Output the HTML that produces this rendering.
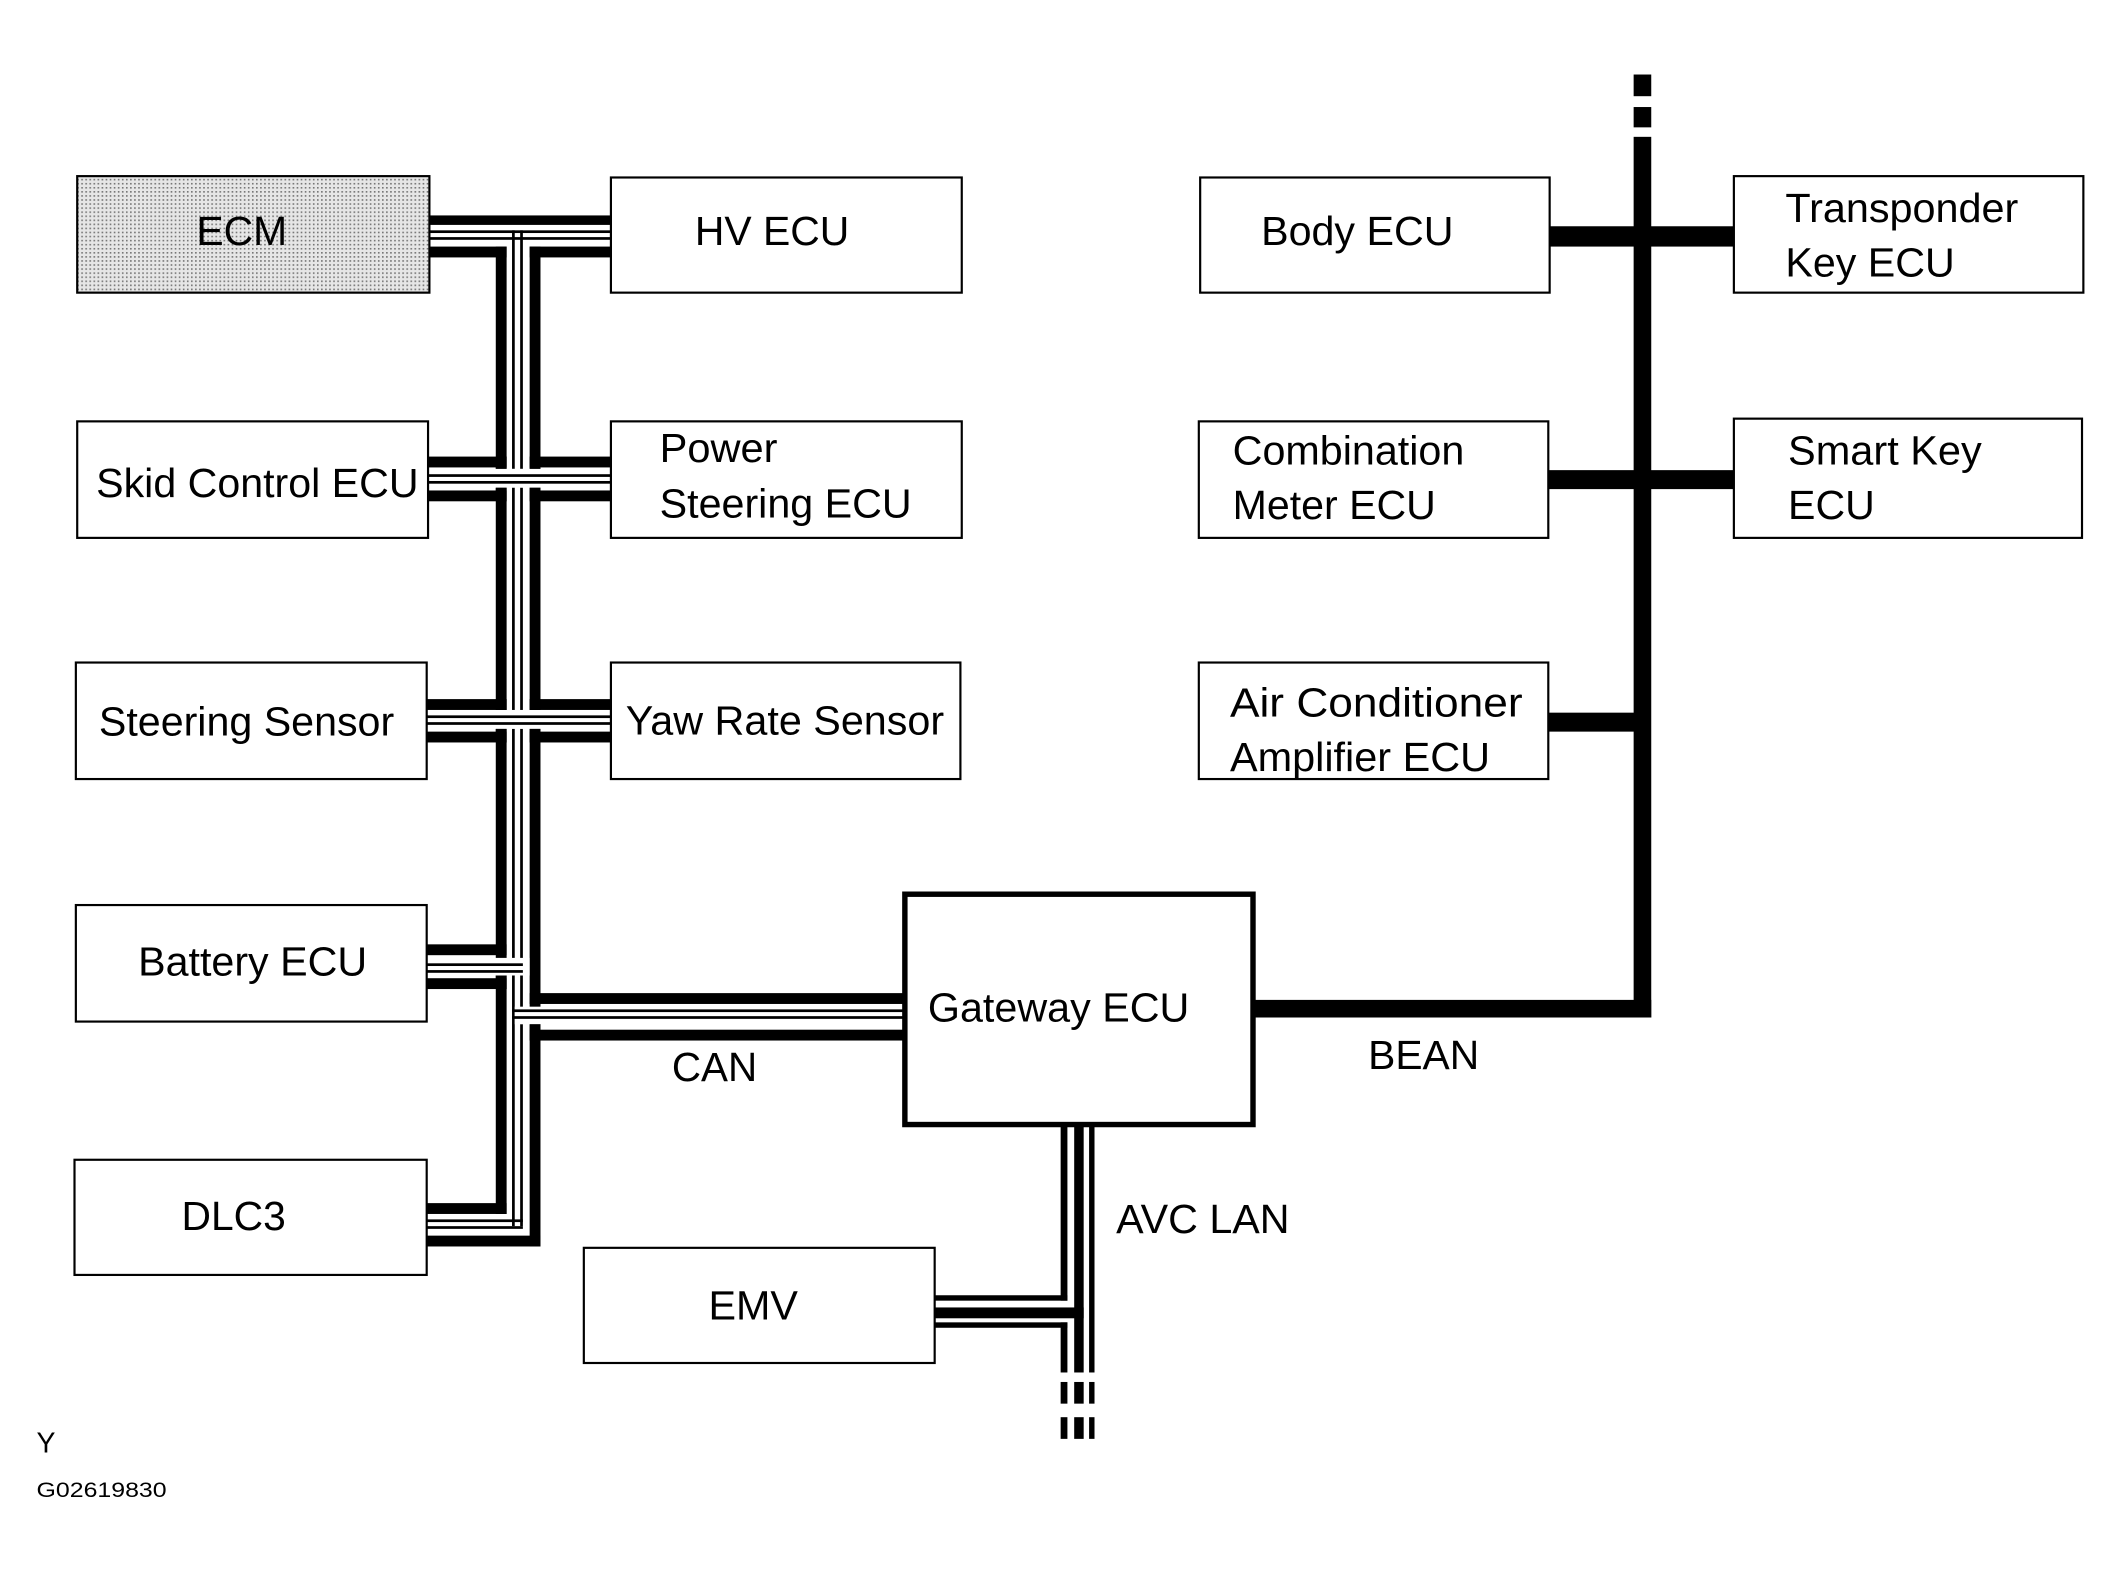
<!DOCTYPE html>
<html><head><meta charset="utf-8"><style>
html,body{margin:0;padding:0;background:#fff;}
svg{display:block;}
text{font-family:"Liberation Sans",Arial,sans-serif;fill:#000;}
</style></head><body>
<svg width="2124" height="1573" viewBox="0 0 1568 1161" preserveAspectRatio="none" xmlns="http://www.w3.org/2000/svg">
<defs>
<pattern id="dots" width="3" height="3" patternUnits="userSpaceOnUse">
<rect width="3" height="3" fill="#e6e6e6"/><rect width="1.2" height="1.2" fill="#777"/>
</pattern>
</defs>
<rect width="1568" height="1161" fill="#fff"/>

<!-- CAN bus verticals -->
<g fill="#000">
<rect x="366" y="182" width="8" height="714"/>
<rect x="391" y="182" width="8" height="738"/>
<rect x="378" y="170" width="2" height="735"/>
<rect x="384" y="170" width="2" height="735"/>
</g>

<!-- ECM / HV row -->
<g fill="#000">
<rect x="317" y="159" width="134" height="7"/>
<rect x="317" y="182" width="57" height="8"/>
<rect x="391" y="182" width="60" height="8"/>
<rect x="317" y="170" width="134" height="2"/>
<rect x="317" y="175" width="134" height="2"/>
</g>

<!-- Skid / Power Steering row c=354 -->
<g>
<rect x="316" y="346" width="135" height="14" fill="#fff"/>
<g fill="#000">
<rect x="316" y="337" width="58" height="8"/>
<rect x="391" y="337" width="60" height="8"/>
<rect x="316" y="362" width="58" height="8"/>
<rect x="391" y="362" width="60" height="8"/>
<rect x="316" y="350" width="135" height="2"/>
<rect x="316" y="355" width="135" height="2"/>
<rect x="366" y="360" width="8" height="10"/>
<rect x="391" y="360" width="8" height="10"/>
<rect x="366" y="337" width="8" height="9"/>
<rect x="391" y="337" width="8" height="9"/>
</g></g>

<!-- Steering / Yaw row c=532 -->
<g>
<rect x="315" y="524" width="136" height="14" fill="#fff"/>
<g fill="#000">
<rect x="315" y="516" width="59" height="8"/>
<rect x="391" y="516" width="60" height="8"/>
<rect x="315" y="540" width="59" height="8"/>
<rect x="391" y="540" width="60" height="8"/>
<rect x="315" y="528" width="136" height="2"/>
<rect x="315" y="533" width="136" height="2"/>
<rect x="366" y="538" width="8" height="10"/>
<rect x="391" y="538" width="8" height="10"/>
<rect x="366" y="516" width="8" height="8"/>
<rect x="391" y="516" width="8" height="8"/>
</g></g>

<!-- Battery row -->
<g>
<rect x="315" y="707" width="76" height="13" fill="#fff"/>
<g fill="#000">
<rect x="315" y="697" width="59" height="8"/>
<rect x="315" y="722" width="59" height="8"/>
<rect x="366" y="720" width="8" height="10"/>
<rect x="315" y="711" width="71" height="2"/>
<rect x="315" y="716" width="71" height="2"/>
</g></g>

<!-- Gateway row -->
<g>
<rect x="380" y="743" width="287" height="13" fill="#fff"/>
<g fill="#000">
<rect x="391" y="733" width="276" height="8"/>
<rect x="391" y="760" width="276" height="8"/>
<rect x="378" y="745" width="289" height="2"/>
<rect x="378" y="750" width="289" height="2"/>
<rect x="391" y="756" width="8" height="12"/>
</g></g>

<!-- DLC3 row -->
<g fill="#000">
<rect x="315" y="888" width="59" height="8"/>
<rect x="315" y="900" width="71" height="2"/>
<rect x="315" y="905" width="71" height="2"/>
<rect x="315" y="912" width="84" height="8"/>
</g>

<!-- BEAN -->
<g fill="#000">
<rect x="1206" y="55" width="13" height="16"/>
<rect x="1206" y="79" width="13" height="15"/>
<rect x="1206" y="101" width="13" height="650"/>
<rect x="1144" y="167" width="136" height="15"/>
<rect x="1143" y="347" width="137" height="14"/>
<rect x="1143" y="526" width="70" height="14"/>
<rect x="926" y="738" width="293" height="13"/>
</g>

<!-- AVC LAN -->
<g fill="#000">
<rect x="783" y="831" width="5" height="129"/>
<rect x="783" y="976" width="5" height="37"/>
<rect x="793" y="831" width="7" height="182"/>
<rect x="804" y="831" width="4" height="182"/>
<rect x="690" y="956" width="98" height="4"/>
<rect x="690" y="965" width="110" height="8"/>
<rect x="690" y="976" width="98" height="4"/>
<rect x="783" y="1020" width="5" height="16"/><rect x="793" y="1020" width="7" height="16"/><rect x="804" y="1020" width="4" height="16"/>
<rect x="783" y="1046" width="5" height="16"/><rect x="793" y="1046" width="7" height="16"/><rect x="804" y="1046" width="4" height="16"/>
</g>

<!-- Boxes -->
<g stroke="#000" stroke-width="1.6" fill="#fff">
<rect x="57" y="130" width="260" height="86" fill="url(#dots)"/>
<rect x="451" y="131" width="259" height="85"/>
<rect x="57" y="311" width="259" height="86"/>
<rect x="451" y="311" width="259" height="86"/>
<rect x="56" y="489" width="259" height="86"/>
<rect x="451" y="489" width="258" height="86"/>
<rect x="56" y="668" width="259" height="86"/>
<rect x="55" y="856" width="260" height="85"/>
<rect x="431" y="921" width="259" height="85"/>
<rect x="886" y="131" width="258" height="85"/>
<rect x="1280" y="130" width="258" height="86"/>
<rect x="885" y="311" width="258" height="86"/>
<rect x="1280" y="309" width="257" height="88"/>
<rect x="885" y="489" width="258" height="86"/>
</g>
<rect x="668" y="660" width="257" height="170" fill="#fff" stroke="#000" stroke-width="4"/>

<!-- Labels -->
<g font-size="30">
<text x="145" y="181" textLength="67" lengthAdjust="spacingAndGlyphs">ECM</text>
<text x="513" y="181" textLength="114" lengthAdjust="spacingAndGlyphs">HV ECU</text>
<text x="71" y="367" textLength="238" lengthAdjust="spacingAndGlyphs">Skid Control ECU</text>
<text x="487" y="341" textLength="87" lengthAdjust="spacingAndGlyphs">Power</text>
<text x="487" y="382" textLength="186" lengthAdjust="spacingAndGlyphs">Steering ECU</text>
<text x="73" y="543" textLength="218" lengthAdjust="spacingAndGlyphs">Steering Sensor</text>
<text x="462" y="542" textLength="235" lengthAdjust="spacingAndGlyphs">Yaw Rate Sensor</text>
<text x="102" y="720" textLength="169" lengthAdjust="spacingAndGlyphs">Battery ECU</text>
<text x="134" y="908" textLength="77" lengthAdjust="spacingAndGlyphs">DLC3</text>
<text x="523" y="974" textLength="66" lengthAdjust="spacingAndGlyphs">EMV</text>
<text x="685" y="754" textLength="193" lengthAdjust="spacingAndGlyphs">Gateway ECU</text>
<text x="496" y="798" textLength="63" lengthAdjust="spacingAndGlyphs">CAN</text>
<text x="1010" y="789" textLength="82" lengthAdjust="spacingAndGlyphs">BEAN</text>
<text x="824" y="910" textLength="128" lengthAdjust="spacingAndGlyphs">AVC LAN</text>
<text x="931" y="181" textLength="142" lengthAdjust="spacingAndGlyphs">Body ECU</text>
<text x="1318" y="164" textLength="172" lengthAdjust="spacingAndGlyphs">Transponder</text>
<text x="1318" y="204" textLength="125" lengthAdjust="spacingAndGlyphs">Key ECU</text>
<text x="910" y="343" textLength="171" lengthAdjust="spacingAndGlyphs">Combination</text>
<text x="910" y="383" textLength="150" lengthAdjust="spacingAndGlyphs">Meter ECU</text>
<text x="1320" y="343" textLength="143" lengthAdjust="spacingAndGlyphs">Smart Key</text>
<text x="1320" y="383" textLength="64" lengthAdjust="spacingAndGlyphs">ECU</text>
<text x="908" y="529" textLength="216" lengthAdjust="spacingAndGlyphs">Air Conditioner</text>
<text x="908" y="569" textLength="192" lengthAdjust="spacingAndGlyphs">Amplifier ECU</text>
</g>
<text x="27" y="1072" font-size="21">Y</text>
<text x="27" y="1105" font-size="16" textLength="96" lengthAdjust="spacingAndGlyphs">G02619830</text>
</svg>
</body></html>
